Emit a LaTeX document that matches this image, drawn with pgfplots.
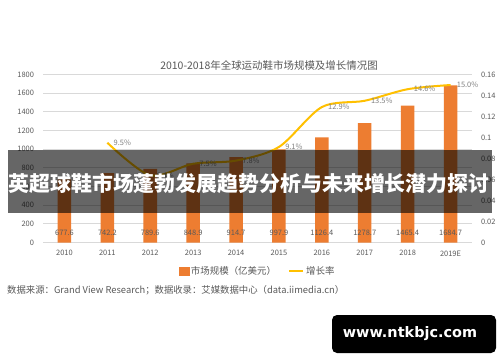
\documentclass[border=0pt]{standalone}
\usepackage{pgfplots}
\pgfplotsset{compat=1.18}
\usepackage{pgfplotstable}
\usepackage{fontspec}
\setmainfont{Noto Sans CJK SC}
\newfontfamily\wmfont{DejaVu Sans}
\definecolor{barorange}{HTML}{ED7D31}
\definecolor{linegold}{HTML}{FFC000}
\definecolor{txtgray}{HTML}{595959}
\definecolor{lblgray}{HTML}{7F7F7F}
\definecolor{gridgray}{HTML}{D9D9D9}

\pgfplotstableread{
x v lab ly
0 677.6 677.6 100
1 742.2 742.2 100
2 789.6 789.6 100
3 848.9 848.9 100
4 914.7 914.7 100
5 997.9 997.9 100
6 1126.4 1126.4 100
7 1278.7 1278.7 100
8 1465.4 1465.4 100
9 1684.7 1684.7 100
}\bardata

\pgfplotstableread{
x g pct
1 0.095 9.5
2 0.064 6.4
3 0.075 7.5
4 0.078 7.8
5 0.091 9.1
6 0.129 12.9
7 0.135 13.5
8 0.146 14.6
9 0.150 15.0
}\growdata

\begin{document}
\begin{tikzpicture}
\useasboundingbox[fill=white] (0,0) rectangle (500bp,-362bp);
\begin{axis}[
  at={(43bp,-242.5bp)}, anchor=south west,
  scale only axis, width=429bp, height=168bp,
  xmin=-0.5, xmax=9.5, ymin=0, ymax=1800,
  xtick={0,...,9},
  xticklabels={2010,2011,2012,2013,2014,2015,2016,2017,2018,2019E},
  ytick={0,200,400,600,800,1000,1200,1400,1600,1800},
  ymajorgrids, grid style={gridgray, line width=0.7bp},
  axis line style={draw=none}, major tick length=0,
  tick label style={font=\fontsize{7.5}{9}\selectfont, text=txtgray},
  xticklabel style={yshift=-4.5bp},
  yticklabel style={xshift=-5.5bp},
  /pgf/number format/assume math mode=true,
  /pgf/number format/1000 sep={},
]
\addplot[ybar, bar width=13.5bp, bar shift=0pt, fill=barorange, draw=none]
  table[x=x, y=v]{\bardata};
\addplot[draw=none, mark=none, nodes near coords, point meta=explicit symbolic,
  every node near coord/.style={anchor=center, font=\fontsize{7.5}{9}\selectfont, text=txtgray}]
  table[x=x, y=ly, meta=lab]{\bardata};
\end{axis}
\begin{axis}[
  at={(43bp,-242.5bp)}, anchor=south west,
  scale only axis, width=429bp, height=168bp,
  xmin=-0.5, xmax=9.5, ymin=0, ymax=0.16,
  axis y line*=right, axis x line=none,
  ytick={0,0.02,0.04,0.06,0.08,0.1,0.12,0.14,0.16},
  yticklabels={0,0.02,0.04,0.06,0.08,0.1,0.12,0.14,0.16},
  axis line style={draw=none}, major tick length=0,
  tick label style={font=\fontsize{7.5}{9}\selectfont, text=txtgray},
  yticklabel style={xshift=5.5bp},
  legend style={at={(0.5,-0.1696)}, anchor=center, draw=none, fill=none,
    legend columns=2, font=\fontsize{9.5}{11}\selectfont, text=txtgray,
    /tikz/every even column/.append style={column sep=10bp}},
]
\addlegendimage{legend image code/.code={\fill[barorange] (0bp,-4bp) rectangle (10bp,4bp);}}
\addlegendentry{市场规模（亿美元）}
\addplot[smooth, linegold, line width=2bp, mark=none,
  nodes near coords={\pgfplotspointmeta\%}, point meta=explicit symbolic,
  every node near coord/.style={anchor=west, xshift=2bp, font=\fontsize{7.5}{9}\selectfont, text=lblgray},
  legend image code/.code={\draw[linegold, line width=2bp] (0bp,0bp) -- (14bp,0bp);}]
  table[x=x, y=g, meta=pct]{\growdata};
\addlegendentry{增长率}
\end{axis}
\node[font=\fontsize{10.5}{12}\selectfont, text=txtgray] at (269bp,-65.5bp) {2010-2018年全球运动鞋市场规模及增长情况图};
\node[anchor=west, inner sep=0, font=\fontsize{9.4}{11}\selectfont, text=txtgray] at (7bp,-290.7bp) {数据来源：Grand View Research；数据收录：艾媒数据中心（data.iimedia.cn）};
\fill[black, opacity=0.6] (8bp,-150bp) rectangle (492bp,-213bp);
\node[text=white, font=\bfseries\fontsize{21}{24}\selectfont] at (249bp,-184bp) {英超球鞋市场蓬勃发展趋势分析与未来增长潜力探讨};
\fill[black, rounded corners=5bp] (332bp,-315bp) rectangle (496bp,-353bp);
\node[text=white, font=\wmfont\bfseries\fontsize{14.5}{16}\selectfont] at (410bp,-334bp) {www.ntkbjc.com};
\end{tikzpicture}
\end{document}
